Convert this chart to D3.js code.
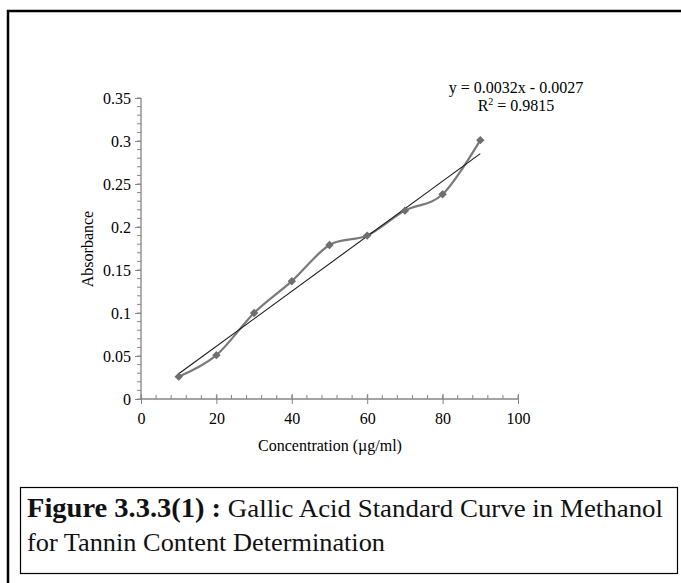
<!DOCTYPE html>
<html>
<head>
<meta charset="utf-8">
<script src="https://cdn.jsdelivr.net/npm/d3@7"></script>
<style>
  html, body { margin: 0; padding: 0; background: #fff; }
  svg { display: block; }
</style>
</head>
<body>
<svg id="chart" width="681" height="583"></svg>
<script>
// Gallic acid calibration data (concentration in µg/ml, absorbance)
const concentration = [10, 20, 30, 40, 50, 60, 70, 80, 90];
const absorbance = [0.026, 0.051, 0.100, 0.137, 0.179, 0.190, 0.219, 0.238, 0.301];
// Linear trendline: y = slope * x + intercept
const slope = 0.0032;
const intercept = -0.0027;
const rSquared = 0.9815;
const xTicks = [0, 20, 40, 60, 80, 100];
const yTicks = [0, 0.05, 0.1, 0.15, 0.2, 0.25, 0.3, 0.35];

const svg = d3.select("#chart");
const serif = "'Liberation Serif', 'Times New Roman', serif";
const axisGray = "#868686";
const labelSize = 16;

// Outer frame (top and left edges)
svg.append("path")
  .attr("d", "M8,583 L8,11 L681,11")
  .attr("fill", "none").attr("stroke", "#000").attr("stroke-width", 2.5);

const x = d3.scaleLinear().domain([0, 100]).range([141, 518]);
const y = d3.scaleLinear().domain([0, 0.35]).range([399, 98]);

// Minor ticks
const g = svg.append("g");
d3.range(0, 100.001, 4).forEach(v => {
  g.append("line").attr("x1", x(v)).attr("x2", x(v)).attr("y1", y(0)).attr("y2", y(0) - 4)
    .attr("stroke", axisGray).attr("stroke-width", 1);
});
d3.range(0, 0.3501, 0.01).forEach(v => {
  g.append("line").attr("x1", x(0) - 4).attr("x2", x(0)).attr("y1", y(v)).attr("y2", y(v))
    .attr("stroke", axisGray).attr("stroke-width", 1);
});

// X axis
const xAxis = svg.append("g").attr("transform", `translate(0,${y(0)})`)
  .call(d3.axisBottom(x).tickValues(xTicks).tickSize(5).tickPadding(9).tickFormat(d3.format("d")));
xAxis.selectAll(".tick line").attr("y1", -5);
// Y axis
const yAxis = svg.append("g").attr("transform", `translate(${x(0)},0)`)
  .call(d3.axisLeft(y).tickValues(yTicks).tickSize(6).tickPadding(4)
    .tickFormat(d => d === 0 ? "0" : String(+d.toFixed(2))));

[xAxis, yAxis].forEach(a => {
  a.attr("font-size", labelSize).attr("font-family", serif);
  a.select(".domain").attr("stroke", axisGray).attr("stroke-width", 1.3);
  a.selectAll(".tick line").attr("stroke", axisGray).attr("stroke-width", 1);
  a.selectAll(".tick text").attr("fill", "#000");
});
xAxis.select(".domain").attr("d", `M${x(0)},0H${x(100)}`);
yAxis.select(".domain").attr("d", `M0,${y(0)}V${y(0.35)}`);

// Axis titles
svg.append("text").attr("x", 330).attr("y", 451).attr("text-anchor", "middle")
  .attr("font-family", serif).attr("font-size", labelSize).text("Concentration (µg/ml)");
svg.append("text").attr("transform", "translate(93,249) rotate(-90)").attr("text-anchor", "middle")
  .attr("font-family", serif).attr("font-size", labelSize).text("Absorbance");

// Data as points
const pts = concentration.map((c, i) => [c, absorbance[i]]);

// Smoothed series line
svg.append("path").datum(pts)
  .attr("d", d3.line().x(d => x(d[0])).y(d => y(d[1])).curve(d3.curveCatmullRom.alpha(0)))
  .attr("fill", "none").attr("stroke", "#7a7a7a").attr("stroke-width", 2.2);

// Linear trendline
const x0 = concentration[0], x1 = concentration[concentration.length - 1];
svg.append("line")
  .attr("x1", x(x0)).attr("y1", y(slope * x0 + intercept))
  .attr("x2", x(x1)).attr("y2", y(slope * x1 + intercept))
  .attr("stroke", "#1a1a1a").attr("stroke-width", 1.1);

// Diamond markers
svg.append("g").selectAll("path").data(pts).join("path")
  .attr("transform", d => `translate(${x(d[0])},${y(d[1])})`)
  .attr("d", "M0,-4.2L4.2,0L0,4.2L-4.2,0Z")
  .attr("fill", "#6e6e6e");

// Trendline equation
svg.append("text").attr("font-family", serif).attr("font-size", labelSize).attr("text-anchor", "middle")
  .attr("x", 516).attr("y", 93).text(`y = ${slope}x - ${Math.abs(intercept)}`);
const r2 = svg.append("text").attr("font-family", serif).attr("font-size", labelSize).attr("text-anchor", "middle")
  .attr("x", 516).attr("y", 111);
r2.append("tspan").text("R");
r2.append("tspan").attr("font-size", 10).attr("dy", -6).text("2");
r2.append("tspan").attr("dy", 6).text(` = ${rSquared}`);

// Caption box
svg.append("rect").attr("x", 20.5).attr("y", 487.5).attr("width", 657).attr("height", 86)
  .attr("fill", "#fff").attr("stroke", "#000").attr("stroke-width", 1.2);
const cap1 = svg.append("text").attr("x", 27).attr("y", 517)
  .attr("font-family", "'Liberation Serif', serif").attr("font-size", 25).attr("fill", "#111");
cap1.append("tspan").attr("font-weight", "bold").attr("font-size", 26.5).text("Figure 3.3.3(1) :");
cap1.append("tspan").text(" Gallic Acid Standard Curve in Methanol");
cap1.attr("textLength", 636).attr("lengthAdjust", "spacingAndGlyphs");
svg.append("text").attr("x", 27).attr("y", 551)
  .attr("font-family", "'Liberation Serif', serif").attr("font-size", 25).attr("fill", "#111")
  .attr("textLength", 358).attr("lengthAdjust", "spacingAndGlyphs")
  .text("for Tannin Content Determination");
</script>
</body>
</html>
